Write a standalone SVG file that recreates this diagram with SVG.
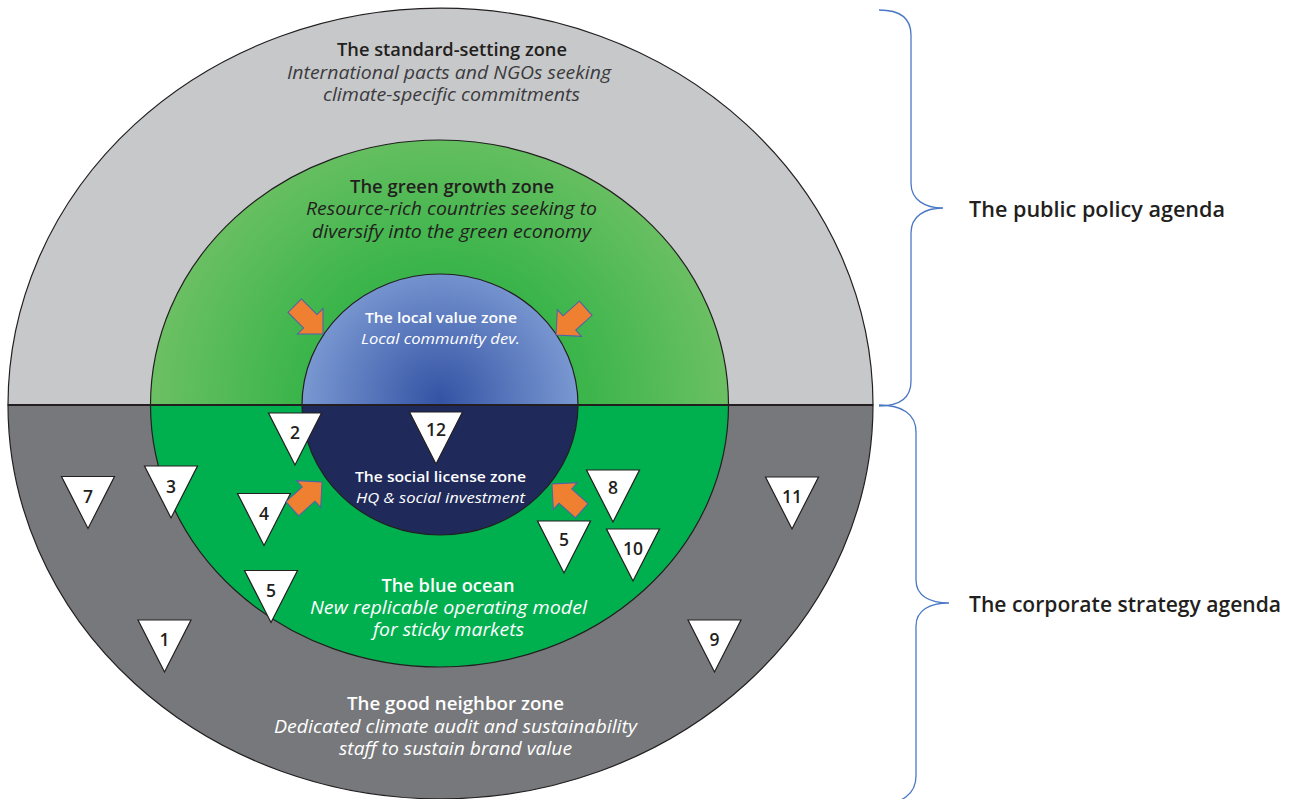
<svg xmlns="http://www.w3.org/2000/svg" width="1289" height="799" viewBox="0 0 1289 799">
<style>
.t{font-family:"Open Sans","Noto Sans",sans-serif;text-anchor:middle}
.s{text-anchor:start}
.b{font-weight:600}
.i{font-style:italic;font-weight:400}
.dk{fill:#231f20}
.dg{fill:#3b3b3d}
.wh{fill:#ffffff}
.edge{stroke:#231f20;stroke-width:1.2}
.tri{fill:#ffffff;stroke:#231f20;stroke-width:1.2;stroke-linejoin:miter}
.num{font-family:"Open Sans","Noto Sans",sans-serif;font-weight:600;font-size:17.5px;fill:#231f20;text-anchor:middle}
.arr{fill:#ef7f31;stroke:#4c62ad;stroke-width:1}
.brace{fill:none;stroke:#4a78c4;stroke-width:1.3}
</style>
<defs>
<radialGradient id="gGreen" gradientUnits="userSpaceOnUse" cx="440" cy="405" r="290">
<stop offset="0" stop-color="#22a845"/>
<stop offset="0.5" stop-color="#3cb54b"/>
<stop offset="1" stop-color="#6cc063"/>
</radialGradient>
<radialGradient id="gBlue" gradientUnits="userSpaceOnUse" cx="440" cy="400" r="140">
<stop offset="0" stop-color="#3453a4"/>
<stop offset="1" stop-color="#7b99d2"/>
</radialGradient>
<polygon id="tri" class="tri" points="-26.5,-52 26.5,-52 0,0"/>
<polygon id="arrow" class="arr" points="0,0 -18,-18 -18,-9.5 -40,-9.5 -40,9.5 -18,9.5 -18,18"/>
</defs>
<rect width="1289" height="799" fill="#ffffff"/>

<g id="standard-setting-zone">
<path class="edge" fill="#c7c8ca" d="M8,405 A432.5,397 0 0 1 873,405 Z"/>
<text class="t b dk" x="452" y="56" font-size="18" textLength="230" lengthAdjust="spacingAndGlyphs">The standard-setting zone</text>
<text class="t i dg" x="449" y="79" font-size="17.5" textLength="324" lengthAdjust="spacingAndGlyphs">International pacts and NGOs seeking</text>
<text class="t i dg" x="451.5" y="101" font-size="17.5" textLength="257" lengthAdjust="spacingAndGlyphs">climate-specific commitments</text>
</g>

<g id="good-neighbor-zone">
<path class="edge" fill="#77787b" d="M8,405 A432.5,394 0 0 0 873,405 Z"/>
<text class="t b wh" x="455.5" y="710" font-size="18" textLength="217" lengthAdjust="spacingAndGlyphs">The good neighbor zone</text>
<text class="t i wh" x="455.5" y="733" font-size="17.5" textLength="363" lengthAdjust="spacingAndGlyphs">Dedicated climate audit and sustainability</text>
<text class="t i wh" x="455.5" y="755" font-size="17.5" textLength="233" lengthAdjust="spacingAndGlyphs">staff to sustain brand value</text>
</g>

<g id="green-growth-zone">
<path class="edge" fill="url(#gGreen)" d="M150.5,405 A289,265 0 0 1 728.5,405 Z"/>
<text class="t b dk" x="452" y="193" font-size="18" textLength="204" lengthAdjust="spacingAndGlyphs">The green growth zone</text>
<text class="t i dk" x="451.5" y="215" font-size="17.5" textLength="291" lengthAdjust="spacingAndGlyphs">Resource-rich countries seeking to</text>
<text class="t i dk" x="451.5" y="238" font-size="17.5" textLength="279" lengthAdjust="spacingAndGlyphs">diversify into the green economy</text>
</g>

<g id="blue-ocean">
<path class="edge" fill="#00b04f" d="M150.5,405 A289,262 0 0 0 728.5,405 Z"/>
<text class="t b wh" x="448" y="592" font-size="18" textLength="133" lengthAdjust="spacingAndGlyphs">The blue ocean</text>
<text class="t i wh" x="448.5" y="614" font-size="17.5" textLength="277" lengthAdjust="spacingAndGlyphs">New replicable operating model</text>
<text class="t i wh" x="448.5" y="636" font-size="17.5" textLength="151" lengthAdjust="spacingAndGlyphs">for sticky markets</text>
</g>

<g id="local-value-zone">
<path class="edge" fill="url(#gBlue)" d="M302,405 A138,131 0 0 1 578,405 Z"/>
<text class="t b wh" x="441" y="323" font-size="14.5" textLength="152" lengthAdjust="spacingAndGlyphs">The local value zone</text>
<text class="t i wh" x="440.5" y="344" font-size="14.5" textLength="159" lengthAdjust="spacingAndGlyphs">Local community dev.</text>
</g>

<g id="social-license-zone">
<path class="edge" fill="#1f2a5b" d="M302,405 A138,130 0 0 0 578,405 Z"/>
<text class="t b wh" x="440.5" y="482" font-size="14.5" textLength="171" lengthAdjust="spacingAndGlyphs">The social license zone</text>
<text class="t i wh" x="440.5" y="503" font-size="14.5" textLength="169" lengthAdjust="spacingAndGlyphs">HQ &amp; social investment</text>
</g>

<g id="divider">
<line x1="8" y1="405" x2="873" y2="405" stroke="#231f20" stroke-width="2"/>
</g>

<g id="marker-1"><use href="#tri" transform="translate(164.5,672)"/><text class="num" x="164.5" y="646">1</text></g>
<g id="marker-2"><use href="#tri" transform="translate(295,465)"/><text class="num" x="295" y="439">2</text></g>
<g id="marker-3"><use href="#tri" transform="translate(171,518)"/><text class="num" x="171" y="493">3</text></g>
<g id="marker-4"><use href="#tri" transform="translate(264,545.5)"/><text class="num" x="264" y="520">4</text></g>
<g id="marker-5a"><use href="#tri" transform="translate(271,622.5)"/><text class="num" x="271" y="597">5</text></g>
<g id="marker-5b"><use href="#tri" transform="translate(564,573)"/><text class="num" x="564" y="546">5</text></g>
<g id="marker-7"><use href="#tri" transform="translate(88,528.5)"/><text class="num" x="88" y="503">7</text></g>
<g id="marker-8"><use href="#tri" transform="translate(613,522)"/><text class="num" x="613" y="494">8</text></g>
<g id="marker-9"><use href="#tri" transform="translate(714.5,672)"/><text class="num" x="714.5" y="646">9</text></g>
<g id="marker-10"><use href="#tri" transform="translate(633,581)"/><text class="num" x="633" y="555">10</text></g>
<g id="marker-11"><use href="#tri" transform="translate(792,529)"/><text class="num" x="792" y="503">11</text></g>
<g id="marker-12"><use href="#tri" transform="translate(436,464)"/><text class="num" x="436" y="436">12</text></g>

<g id="connectors">
<use href="#arrow" transform="translate(323,334) rotate(45)"/>
<use href="#arrow" transform="translate(556,335) rotate(138)"/>
<use href="#arrow" transform="translate(322,482) rotate(-42)"/>
<use href="#arrow" transform="translate(552,484) rotate(-138)"/>
<path class="brace" d="M879,10 C900,10 911,18 911,35 L911,183 C911,200 925,208 943,208 C925,208 911,216 911,233 L911,381 C911,398 900,406 879,406"/>
<path class="brace" d="M879,405 C902,405 916,414 916,432 L916,580 C916,596 930,603 949,603 C930,603 916,610 916,626 L916,776 C916,794 902,804 879,804"/>
</g>

<g id="label-public-policy">
<text class="t s b dk" x="969" y="217" font-size="21" textLength="256" lengthAdjust="spacingAndGlyphs">The public policy agenda</text>
</g>
<g id="label-corporate-strategy">
<text class="t s b dk" x="969" y="612" font-size="21" textLength="312" lengthAdjust="spacingAndGlyphs">The corporate strategy agenda</text>
</g>
</svg>
